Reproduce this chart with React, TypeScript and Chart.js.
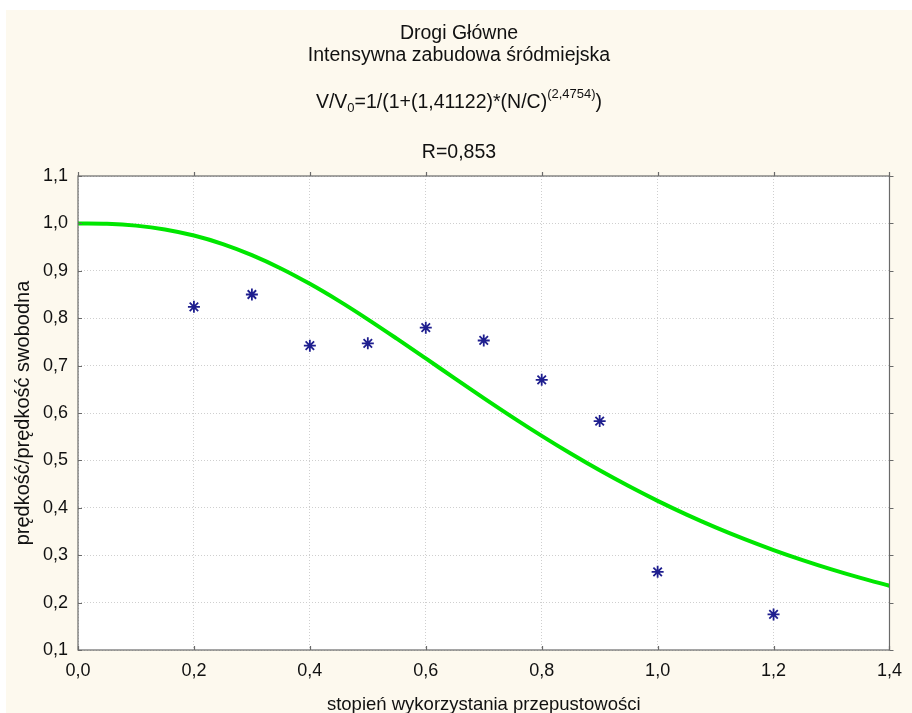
import React, { useEffect, useRef } from "react";
import { Chart, registerables } from "chart.js";

Chart.register(...registerables);

// ---- text ----
const titleLine1 = "Drogi Główne";
const titleLine2 = "Intensywna zabudowa śródmiejska";
// [text, kind] kind: "n" normal, "sub" subscript, "sup" superscript
const formulaParts: [string, string][] = [
  ["V/V", "n"],
  ["0", "sub"],
  ["=1/(1+(1,41122)*(N/C)", "n"],
  ["(2,4754)", "sup"],
  [")", "n"],
];
const rLine = "R=0,853";
const xAxisTitle = "stopień wykorzystania przepustowości";
const yAxisTitle = "prędkość/prędkość swobodna";

// ---- data ----
const obsX = [0.2, 0.3, 0.4, 0.5, 0.6, 0.7, 0.8, 0.9, 1.0, 1.2];
const obsY = [0.824, 0.85, 0.742, 0.747, 0.78, 0.753, 0.67, 0.583, 0.265, 0.175];

const fitX = [
  0, 0.05, 0.1, 0.15, 0.2, 0.25, 0.3, 0.35, 0.4, 0.45, 0.5, 0.55, 0.6, 0.65, 0.7,
  0.75, 0.8, 0.85, 0.9, 0.95, 1.0, 1.05, 1.1, 1.15, 1.2, 1.25, 1.3, 1.35, 1.4,
];
const fitY = [
  1.0, 0.9992, 0.9953, 0.9873, 0.9744, 0.9564, 0.9331, 0.905, 0.8725, 0.8365,
  0.7976, 0.7568, 0.7151, 0.673, 0.6315, 0.5909, 0.5518, 0.5145, 0.4791, 0.4459,
  0.4147, 0.3857, 0.3588, 0.3339, 0.3109, 0.2897, 0.2701, 0.2521, 0.2355,
];

const xTicks = [0, 0.2, 0.4, 0.6, 0.8, 1.0, 1.2, 1.4];
const xTickLabels = ["0,0", "0,2", "0,4", "0,6", "0,8", "1,0", "1,2", "1,4"];
const yTicks = [0.1, 0.2, 0.3, 0.4, 0.5, 0.6, 0.7, 0.8, 0.9, 1.0, 1.1];
const yTickLabels = ["0,1", "0,2", "0,3", "0,4", "0,5", "0,6", "0,7", "0,8", "0,9", "1,0", "1,1"];

const FONT = '"Liberation Sans", Arial, Helvetica, sans-serif';
const CREAM = "#fdf9ee";

const bgPlugin = {
  id: "bgPlugin",
  beforeDraw(chart: any) {
    const { ctx, chartArea } = chart;
    ctx.save();
    ctx.fillStyle = CREAM;
    ctx.fillRect(0, 0, chart.width, chart.height);
    ctx.fillStyle = "#ffffff";
    ctx.fillRect(chartArea.left, chartArea.top, chartArea.right - chartArea.left, chartArea.bottom - chartArea.top);
    ctx.restore();
  },
};

const framePlugin = {
  id: "framePlugin",
  afterDraw(chart: any) {
    const { ctx, chartArea, scales } = chart;
    const { left, right, top, bottom } = chartArea;
    ctx.save();
    ctx.strokeStyle = "#6a6a6a";
    ctx.lineWidth = 1.2;
    ctx.strokeRect(left, top, right - left, bottom - top);
    ctx.beginPath();
    const tl = 4;
    for (const v of yTicks) {
      const y = Math.round(scales.y.getPixelForValue(v)) + 0.5;
      ctx.moveTo(left, y);
      ctx.lineTo(left + tl, y);
      ctx.moveTo(right, y);
      ctx.lineTo(right + tl, y);
    }
    for (const v of xTicks) {
      const x = Math.round(scales.x.getPixelForValue(v)) + 0.5;
      ctx.moveTo(x, bottom);
      ctx.lineTo(x, bottom - tl);
      ctx.moveTo(x, top);
      ctx.lineTo(x, top - tl);
    }
    ctx.stroke();
    ctx.restore();

    // titles
    const cx = chart.width / 2;
    ctx.save();
    ctx.fillStyle = "#111";
    ctx.textBaseline = "alphabetic";
    ctx.textAlign = "center";
    const normalFont = `19.5px ${FONT}`;
    const smallFont = `13px ${FONT}`;
    ctx.font = normalFont;
    ctx.fillText(titleLine1, cx, 29);
    ctx.fillText(titleLine2, cx, 51);
    ctx.fillText(rLine, cx, 148);

    // formula with sub/superscript
    ctx.textAlign = "left";
    let total = 0;
    for (const [t, k] of formulaParts) {
      ctx.font = k === "n" ? normalFont : smallFont;
      total += ctx.measureText(t).width;
    }
    let x = cx - total / 2;
    const base = 98;
    for (const [t, k] of formulaParts) {
      ctx.font = k === "n" ? normalFont : smallFont;
      const y = k === "sub" ? base + 4 : k === "sup" ? base - 10 : base;
      ctx.fillText(t, x, y);
      x += ctx.measureText(t).width;
    }
    ctx.restore();
  },
};

export default function App() {
  const ref = useRef<HTMLCanvasElement | null>(null);

  useEffect(() => {
    document.body.style.margin = "0";
    const canvas = ref.current;
    if (!canvas) return;
    const chart = new Chart(canvas, {
      type: "scatter",
      data: {
        datasets: [
          {
            type: "line",
            label: "fit",
            data: fitX.map((v, i) => ({ x: v, y: fitY[i] })),
            borderColor: "#00e600",
            borderWidth: 4,
            pointRadius: 0,
            fill: false,
            cubicInterpolationMode: "monotone",
            order: 2,
          } as any,
          {
            type: "scatter",
            label: "obs",
            data: obsX.map((v, i) => ({ x: v, y: obsY[i] })),
            pointStyle: "star",
            pointRadius: 6,
            borderColor: "#1f1f8f",
            backgroundColor: "#1f1f8f",
            borderWidth: 1.8,
            order: 1,
          } as any,
        ],
      },
      options: {
        animation: false,
        responsive: false,
        layout: { padding: { top: 166, right: 17, left: 0, bottom: 0 } },
        plugins: { legend: { display: false }, tooltip: { enabled: false }, title: { display: false } },
        scales: {
          x: {
            type: "linear",
            min: 0,
            max: 1.4,
            afterBuildTicks: (s: any) => {
              s.ticks = xTicks.map((v) => ({ value: v }));
            },
            afterFit: (s: any) => {
              s.height = 63;
            },
            ticks: {
              callback: (_v: any, i: number) => xTickLabels[i],
              color: "#111",
              font: { family: FONT, size: 18 },
              padding: 10,
              maxRotation: 0,
              autoSkip: false,
            },
            grid: {
              color: "#cfcfcf",
              lineWidth: 1,
              drawTicks: false,
            },
            border: { display: false, dash: [1, 2] },
            title: {
              display: true,
              text: xAxisTitle,
              color: "#111",
              font: { family: FONT, size: 18.5 },
              padding: { top: 0, bottom: -3 },
            },
          },
          y: {
            type: "linear",
            min: 0.1,
            max: 1.1,
            afterBuildTicks: (s: any) => {
              s.ticks = yTicks.map((v) => ({ value: v }));
            },
            afterFit: (s: any) => {
              s.width = 72;
            },
            ticks: {
              callback: (_v: any, i: number) => yTickLabels[i],
              color: "#111",
              font: { family: FONT, size: 18 },
              padding: 10,
              autoSkip: false,
            },
            grid: {
              color: "#cfcfcf",
              lineWidth: 1,
              drawTicks: false,
            },
            border: { display: false, dash: [1, 2] },
            title: {
              display: true,
              text: yAxisTitle,
              color: "#111",
              font: { family: FONT, size: 20 },
              padding: { top: 5, bottom: 0 },
            },
          },
        },
      } as any,
      plugins: [bgPlugin, framePlugin],
    });
    return () => chart.destroy();
  }, []);

  return (
    <div style={{ width: 912, height: 713, background: "#fff", paddingLeft: 6, paddingTop: 10, boxSizing: "border-box" }}>
      <canvas ref={ref} width={906} height={703} style={{ display: "block", width: 906, height: 703 }} />
    </div>
  );
}
